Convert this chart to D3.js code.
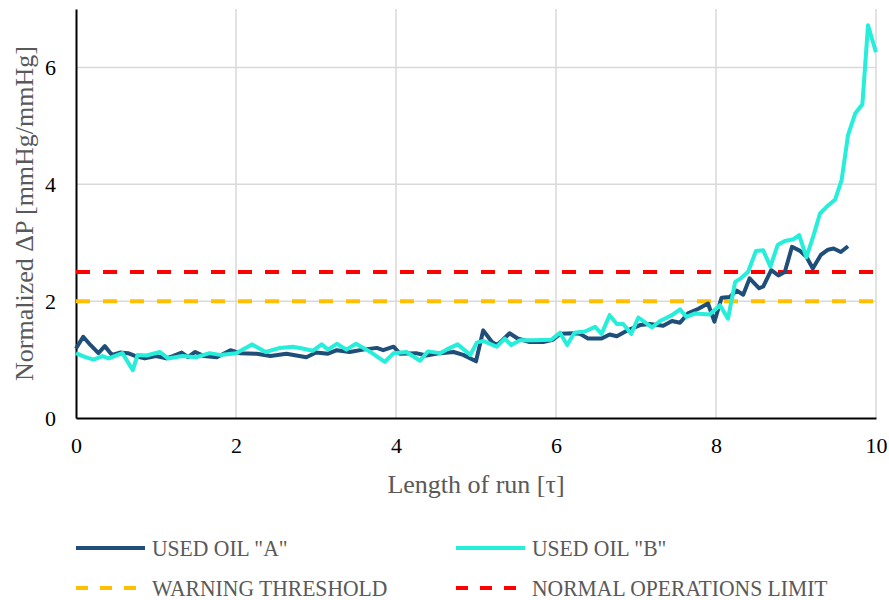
<!DOCTYPE html>
<html>
<head>
<meta charset="utf-8">
<script src="https://cdn.jsdelivr.net/npm/d3@7"></script>
<style>
  body { margin: 0; background: #fff; }
</style>
</head>
<body>
<svg id="chart"></svg>
<script>
// data
const oilA_x = [0, 0.09, 0.18, 0.28, 0.36, 0.45, 0.55, 0.65, 0.76, 0.86, 1.0, 1.13, 1.21, 1.32, 1.4, 1.49, 1.6, 1.76, 1.93, 2.05, 2.26, 2.43, 2.63, 2.88, 3.0, 3.15, 3.26, 3.42, 3.59, 3.76, 3.84, 3.97, 4.05, 4.25, 4.38, 4.55, 4.72, 4.84, 5.0, 5.09, 5.2, 5.26, 5.33, 5.42, 5.52, 5.67, 5.84, 5.96, 6.05, 6.22, 6.3, 6.4, 6.57, 6.67, 6.76, 6.88, 7.05, 7.17, 7.34, 7.45, 7.55, 7.65, 7.78, 7.9, 7.98, 8.07, 8.17, 8.26, 8.34, 8.42, 8.54, 8.59, 8.69, 8.78, 8.86, 8.95, 9.05, 9.13, 9.21, 9.31, 9.4, 9.47, 9.56, 9.65];
const oilA_y = [1.19, 1.39, 1.25, 1.11, 1.23, 1.08, 1.12, 1.11, 1.05, 1.02, 1.06, 1.02, 1.06, 1.12, 1.04, 1.13, 1.06, 1.04, 1.16, 1.11, 1.10, 1.06, 1.10, 1.04, 1.12, 1.10, 1.16, 1.13, 1.17, 1.20, 1.16, 1.22, 1.10, 1.11, 1.07, 1.11, 1.13, 1.08, 0.97, 1.50, 1.30, 1.25, 1.33, 1.45, 1.36, 1.30, 1.30, 1.34, 1.44, 1.45, 1.44, 1.36, 1.36, 1.43, 1.40, 1.49, 1.59, 1.61, 1.58, 1.66, 1.63, 1.79, 1.87, 1.96, 1.65, 2.06, 2.07, 2.18, 2.11, 2.39, 2.22, 2.25, 2.53, 2.44, 2.50, 2.93, 2.86, 2.76, 2.56, 2.79, 2.88, 2.90, 2.84, 2.94];

const oilB_x = [0, 0.1, 0.22, 0.33, 0.41, 0.58, 0.71, 0.77, 0.88, 1.05, 1.15, 1.33, 1.5, 1.67, 1.8, 2.0, 2.2, 2.37, 2.55, 2.71, 2.83, 2.96, 3.07, 3.15, 3.26, 3.38, 3.5, 3.67, 3.86, 3.97, 4.13, 4.3, 4.4, 4.55, 4.63, 4.77, 4.93, 5.01, 5.09, 5.26, 5.36, 5.44, 5.55, 5.71, 5.94, 6.05, 6.14, 6.23, 6.36, 6.49, 6.57, 6.67, 6.76, 6.84, 6.94, 7.03, 7.2, 7.3, 7.45, 7.55, 7.63, 7.74, 7.92, 8.05, 8.15, 8.24, 8.31, 8.4, 8.5, 8.59, 8.68, 8.77, 8.86, 8.97, 9.04, 9.13, 9.22, 9.3, 9.38, 9.49, 9.57, 9.65, 9.74, 9.83, 9.9, 10.0];
const oilB_y = [1.11, 1.05, 1.00, 1.06, 1.02, 1.11, 0.82, 1.08, 1.07, 1.13, 1.02, 1.06, 1.04, 1.11, 1.08, 1.11, 1.26, 1.13, 1.20, 1.22, 1.19, 1.15, 1.26, 1.17, 1.27, 1.17, 1.27, 1.14, 0.96, 1.11, 1.13, 0.98, 1.14, 1.11, 1.17, 1.26, 1.08, 1.29, 1.32, 1.22, 1.36, 1.25, 1.33, 1.33, 1.34, 1.46, 1.25, 1.46, 1.48, 1.56, 1.44, 1.76, 1.61, 1.61, 1.44, 1.72, 1.55, 1.66, 1.76, 1.86, 1.73, 1.79, 1.77, 1.93, 1.70, 2.33, 2.39, 2.50, 2.86, 2.87, 2.59, 2.96, 3.03, 3.06, 3.13, 2.75, 3.13, 3.50, 3.61, 3.74, 4.07, 4.84, 5.21, 5.37, 6.72, 6.26];

const warningThreshold = 2.0;
const normalLimit = 2.5;

const xTicks = [0, 2, 4, 6, 8, 10];
const yTicks = [0, 2, 4, 6];

const legendLabels = ['USED OIL "A"', 'USED OIL "B"', "WARNING THRESHOLD", "NORMAL OPERATIONS LIMIT"];

const width = 889,
    height = 600,
    margin = { top: 9, right: 13, bottom: 182, left: 76 },
    serif = '"Liberation Serif", "Times New Roman", Times, serif';

const colors = { a: "#1F4E79", b: "#25EEDA", warn: "#FFC000", limit: "#FF0000" };

const svg = d3.select("#chart")
    .attr("width", width)
    .attr("height", height)
    .style("font-family", serif);

svg.append("rect").attr("width", width).attr("height", height).attr("fill", "#fff");

const xScale = d3.scaleLinear()
    .domain([0, 10])
    .range([margin.left, width - margin.right]);

const yScale = d3.scaleLinear()
    .domain([0, 7])
    .range([height - margin.bottom, margin.top]);

// gridlines
svg.append("g")
    .selectAll("line")
    .data(xTicks.filter(d => d > 0))
    .join("line")
    .attr("x1", d => xScale(d)).attr("x2", d => xScale(d))
    .attr("y1", yScale(7)).attr("y2", yScale(0))
    .attr("stroke", "#D9D9D9").attr("stroke-width", 1.5);

svg.append("g")
    .selectAll("line")
    .data(yTicks.filter(d => d > 0))
    .join("line")
    .attr("x1", xScale(0)).attr("x2", xScale(10))
    .attr("y1", d => yScale(d)).attr("y2", d => yScale(d))
    .attr("stroke", "#D9D9D9").attr("stroke-width", 1.5);

// axes
const xAxis = d3.axisBottom(xScale).tickValues(xTicks).tickFormat(d3.format("d")).tickSize(0).tickPadding(19);
const yAxis = d3.axisLeft(yScale).tickValues(yTicks).tickFormat(d3.format("d")).tickSize(0).tickPadding(20);

const gx = svg.append("g")
    .attr("transform", `translate(0,${yScale(0)})`)
    .call(xAxis);
const gy = svg.append("g")
    .attr("transform", `translate(${xScale(0)},0)`)
    .call(yAxis);

[gx, gy].forEach(g => {
    g.attr("font-family", null).attr("font-size", null);
    g.select(".domain").attr("stroke", "#000").attr("stroke-width", 2);
    g.selectAll("text")
        .style("font-family", serif)
        .style("font-size", "22px")
        .attr("fill", "#000");
});

// threshold lines
svg.append("line")
    .attr("x1", xScale(0)).attr("x2", xScale(10))
    .attr("y1", yScale(warningThreshold)).attr("y2", yScale(warningThreshold))
    .attr("stroke", colors.warn).attr("stroke-width", 4)
    .attr("stroke-dasharray", "14,13");

svg.append("line")
    .attr("x1", xScale(0)).attr("x2", xScale(10))
    .attr("y1", yScale(normalLimit)).attr("y2", yScale(normalLimit))
    .attr("stroke", colors.limit).attr("stroke-width", 4)
    .attr("stroke-dasharray", "14,13");

// series lines
const line = d3.line()
    .x(d => xScale(d[0]))
    .y(d => yScale(d[1]));

const seriesA = d3.zip(oilA_x, oilA_y);
const seriesB = d3.zip(oilB_x, oilB_y);

svg.append("path")
    .datum(seriesA)
    .attr("d", line)
    .attr("fill", "none")
    .attr("stroke", colors.a)
    .attr("stroke-width", 4)
    .attr("stroke-linejoin", "round");

svg.append("path")
    .datum(seriesB)
    .attr("d", line)
    .attr("fill", "none")
    .attr("stroke", colors.b)
    .attr("stroke-width", 4)
    .attr("stroke-linejoin", "round");

// axis titles
svg.append("text")
    .attr("x", (xScale(0) + xScale(10)) / 2)
    .attr("y", 493)
    .attr("text-anchor", "middle")
    .style("font-size", "26px")
    .attr("fill", "#595959")
    .text("Length of run [τ]");

svg.append("text")
    .attr("transform", `translate(33,${(yScale(0) + yScale(7)) / 2}) rotate(-90)`)
    .attr("text-anchor", "middle")
    .style("font-size", "26px")
    .attr("fill", "#595959")
    .text("Normalized ΔP [mmHg/mmHg]");

// legend
const legendItems = [
    { label: legendLabels[0], color: colors.a, dash: null, x: 76, y: 548 },
    { label: legendLabels[1], color: colors.b, dash: null, x: 456, y: 548 },
    { label: legendLabels[2], color: colors.warn, dash: "12,12", x: 76, y: 588 },
    { label: legendLabels[3], color: colors.limit, dash: "12,12", x: 456, y: 588 }
];

const legend = svg.append("g")
    .selectAll("g")
    .data(legendItems)
    .join("g")
    .attr("transform", d => `translate(${d.x},${d.y})`);

legend.append("line")
    .attr("x1", 0).attr("x2", 69)
    .attr("stroke", d => d.color)
    .attr("stroke-width", 4)
    .attr("stroke-dasharray", d => d.dash);

legend.append("text")
    .attr("transform", "translate(76,8) scale(0.9,1)")
    .style("font-size", "24px")
    .attr("fill", "#595959")
    .text(d => d.label);
</script>
</body>
</html>
